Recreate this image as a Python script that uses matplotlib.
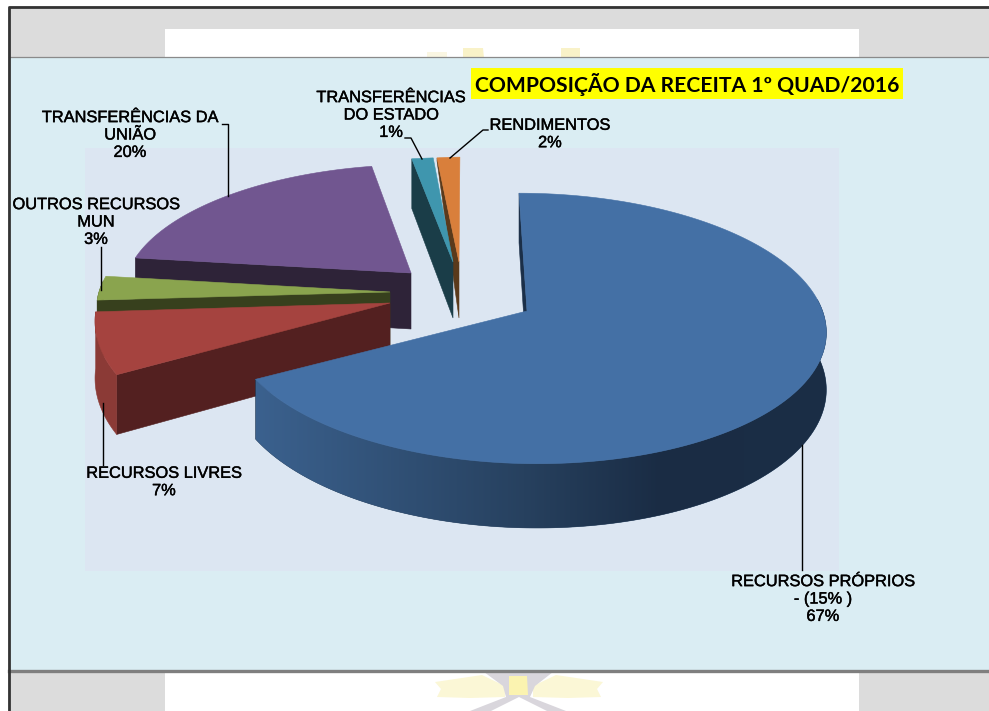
import numpy as np
import matplotlib
matplotlib.use("Agg")
import matplotlib.pyplot as plt
import matplotlib.patheffects as pe
from matplotlib.colors import LinearSegmentedColormap
from matplotlib.patches import Polygon, Rectangle

#-----Data-----#
Categories = ["RECURSOS PRÓPRIOS\n- (15% )", "RECURSOS LIVRES", "OUTROS RECURSOS\nMUN",
              "TRANSFERÊNCIAS DA\nUNIÃO", "TRANSFERÊNCIAS\nDO ESTADO", "RENDIMENTOS"]
Values = [67, 7, 3, 20, 1, 2]
Title = "COMPOSIÇÃO DA RECEITA 1º QUAD/2016"

#-----Look of each slice, same order as Values-----#
TopColors = ["#4470A5", "#A5433F", "#8AA44E", "#715690", "#3F96AE", "#D97F3B"]
FaceColors = ["#1B2F48", "#532020", "#37401D", "#2E2338", "#1A3D48", "#5A3A1B"]
RimColors = [None, "#8B3A36", "#37401D", "#2E2338", "#1A3D48", "#5A3A1B"]
ApexX = [527, 390, 390, 411, 453, 459]
ApexY = [311, 303, 292, 273, 262, 262]
ScaleX = [0.985, 0.975, 0.97, 0.945, 1.28, 0.686]
ScaleY = [1.0, 1.05, 0.96, 0.92, 0.89, 0.89]
Skew = [-9, 0, 0, 9, 26, 1]
OuterDepth = [1, 1, 1, 1, 1, 0.06]
DrawOrder = [3, 5, 4, 2, 1, 0]

#-----Pie projection, in pixels-----#
RadiusX = 300
RadiusY = 133
Perspective = 0.129
Depth = 56

#blue rim gets darker towards the right
BlueRimX = [0.0, 0.47, 0.71, 1.0]
BlueRimColors = ["#3B618E", "#27415F", "#1A2C44", "#1B2E46"]

#-----GlobalFunctions-----#
#Projects an angle (degrees clockwise from north) on the top of slice i
def TopPoint(Angle, i):
    X = np.sin(np.radians(Angle))
    Y = np.cos(np.radians(Angle))
    F = 1 / (1 + Perspective * Y)
    return (ApexX[i] + (RadiusX * ScaleX[i] * X + Skew[i] * Y) * F,
            ApexY[i] - RadiusY * ScaleY[i] * Y * F), Depth * F

def DrawPoly(Ax, Points, Color):
    return Ax.add_patch(Polygon(Points, closed=True, facecolor=Color, edgecolor=Color, linewidth=0.4, zorder=1))

def Faint(Ax, Points, Color):
    Ax.add_patch(Polygon(Points, closed=True, facecolor=Color, edgecolor="none", zorder=1))

def DrawSlice(Ax, i, Start, End):
    #radial face on the start edge
    Outer, OuterD = TopPoint(Start, i)
    DrawPoly(Ax, [(ApexX[i], ApexY[i]), Outer, (Outer[0], Outer[1] + OuterD * OuterDepth[i]),
                  (ApexX[i], ApexY[i] + Depth)], FaceColors[i])

    #curved rim, only the part turned to the viewer
    Low, High = max(Start, 85), min(End, 275)
    if High > Low:
        Steps = np.linspace(Low, High, int(High - Low) * 2 + 2)
        Upper = [TopPoint(A, i)[0] for A in Steps]
        Lower = [(P[0], P[1] + TopPoint(A, i)[1]) for P, A in zip(Upper, Steps)]
        Points = Upper + Lower[::-1]
        if RimColors[i] is None:
            Base = DrawPoly(Ax, Points, BlueRimColors[1])
            Cmap = LinearSegmentedColormap.from_list("rim", list(zip(BlueRimX, BlueRimColors)))
            Xs = [P[0] for P in Points]
            Ys = [P[1] for P in Points]
            Im = Ax.imshow(np.linspace(0, 1, 256).reshape(1, -1), cmap=Cmap, vmin=0, vmax=1, aspect="auto",
                           extent=[min(Xs), max(Xs), max(Ys), min(Ys)], zorder=1)
            Im.set_clip_path(Base)
        else:
            DrawPoly(Ax, Points, RimColors[i])

    #top surface
    Arc = [TopPoint(A, i)[0] for A in np.linspace(Start, End, int(End - Start) * 2 + 2)]
    DrawPoly(Ax, [(ApexX[i], ApexY[i])] + Arc, TopColors[i])

#-----Main-----#
Fig = plt.figure(figsize=(9.89, 7.11), dpi=100)
Ax = Fig.add_axes([0, 0, 1, 1])

#slide background
Ax.add_patch(Rectangle((8, 6), 981, 705, facecolor="#DCDCDC", edgecolor="none", zorder=1))
Ax.add_patch(Rectangle((165, 29), 694, 29, facecolor="white", edgecolor="none", zorder=1))
Ax.add_patch(Rectangle((165, 672), 694, 39, facecolor="white", edgecolor="none", zorder=1))

#faded logo, mostly hidden by the slide
Faint(Ax, [(435, 682), (482, 675), (505, 686), (505, 697), (470, 698), (437, 697), (441, 689)], "#FBF7D6")
Faint(Ax, [(603, 682), (556, 675), (533, 686), (533, 697), (568, 698), (601, 697), (597, 689)], "#FBF7D6")
Faint(Ax, [(484, 672), (553, 672), (535, 686), (530, 697), (566, 711), (547, 711), (519, 697), (491, 711), (470, 711), (506, 697), (503, 686)], "#D9D6DC")
Faint(Ax, [(509, 676), (527, 676), (528, 695), (509, 695)], "#FBF3B0")
Faint(Ax, [(427, 52), (447, 52), (447, 58), (427, 58)], "#FAF6E2")
Faint(Ax, [(463, 48), (483, 48), (484, 58), (463, 58)], "#F9F2C8")
Faint(Ax, [(561, 48), (580, 48), (580, 58), (561, 58)], "#F9F2C8")

Ax.add_patch(Rectangle((9, 57), 980, 614, facecolor="#DAEDF3", edgecolor="none", zorder=1))
Ax.plot([9, 989], [57, 57], color="#8A8A8A", linewidth=0.9)
Ax.plot([9, 989], [671, 671], color="#7F7F7F", linewidth=2.4)
Ax.plot([8.5, 8.5, 989], [711, 6.5, 6.5], color="#333333", linewidth=2.0)

#chart area
Ax.add_patch(Rectangle((85, 148), 754, 423, facecolor="#DCE6F2", edgecolor="none", zorder=1))

#slices, angles come from the values
Edges = np.cumsum([0] + Values) / np.sum(Values) * 360
for i in DrawOrder:
    DrawSlice(Ax, i, Edges[i], Edges[i + 1])

#leader lines
Ax.plot([222, 228, 228], [124, 124, 196], color="black", linewidth=1)
Ax.plot([101, 101], [247, 290], color="black", linewidth=1)
Ax.plot([103, 103], [403, 465], color="black", linewidth=1)
Ax.plot([405, 411, 422], [138, 138, 159], color="black", linewidth=1)
Ax.plot([488, 483, 450], [130, 130, 158], color="black", linewidth=1)
Ax.plot([802, 802], [445, 570], color="black", linewidth=1)

#data labels
LabelX = [823, 164, 96, 130, 391, 550]
LabelY = [599, 482, 222, 135, 115, 134]
for i in range(len(Values)):
    Ax.text(LabelX[i], LabelY[i], Categories[i] + "\n" + str(Values[i]) + "%", ha="center", va="center",
            family="Liberation Sans", fontsize=11.8, linespacing=1.2, color="black",
            path_effects=[pe.withStroke(linewidth=0.3, foreground="black")])

#title
Ax.add_patch(Rectangle((471, 68), 432, 31, facecolor="#FFFF00", edgecolor="none", zorder=1))
Ax.text(687, 84, Title, ha="center", va="center", family="Lato", weight="bold", fontsize=15.2, color="black")

Ax.set_xlim(0, 989)
Ax.set_ylim(711, 0)
Ax.axis("off")

Fig.savefig("out.png", dpi=100)
